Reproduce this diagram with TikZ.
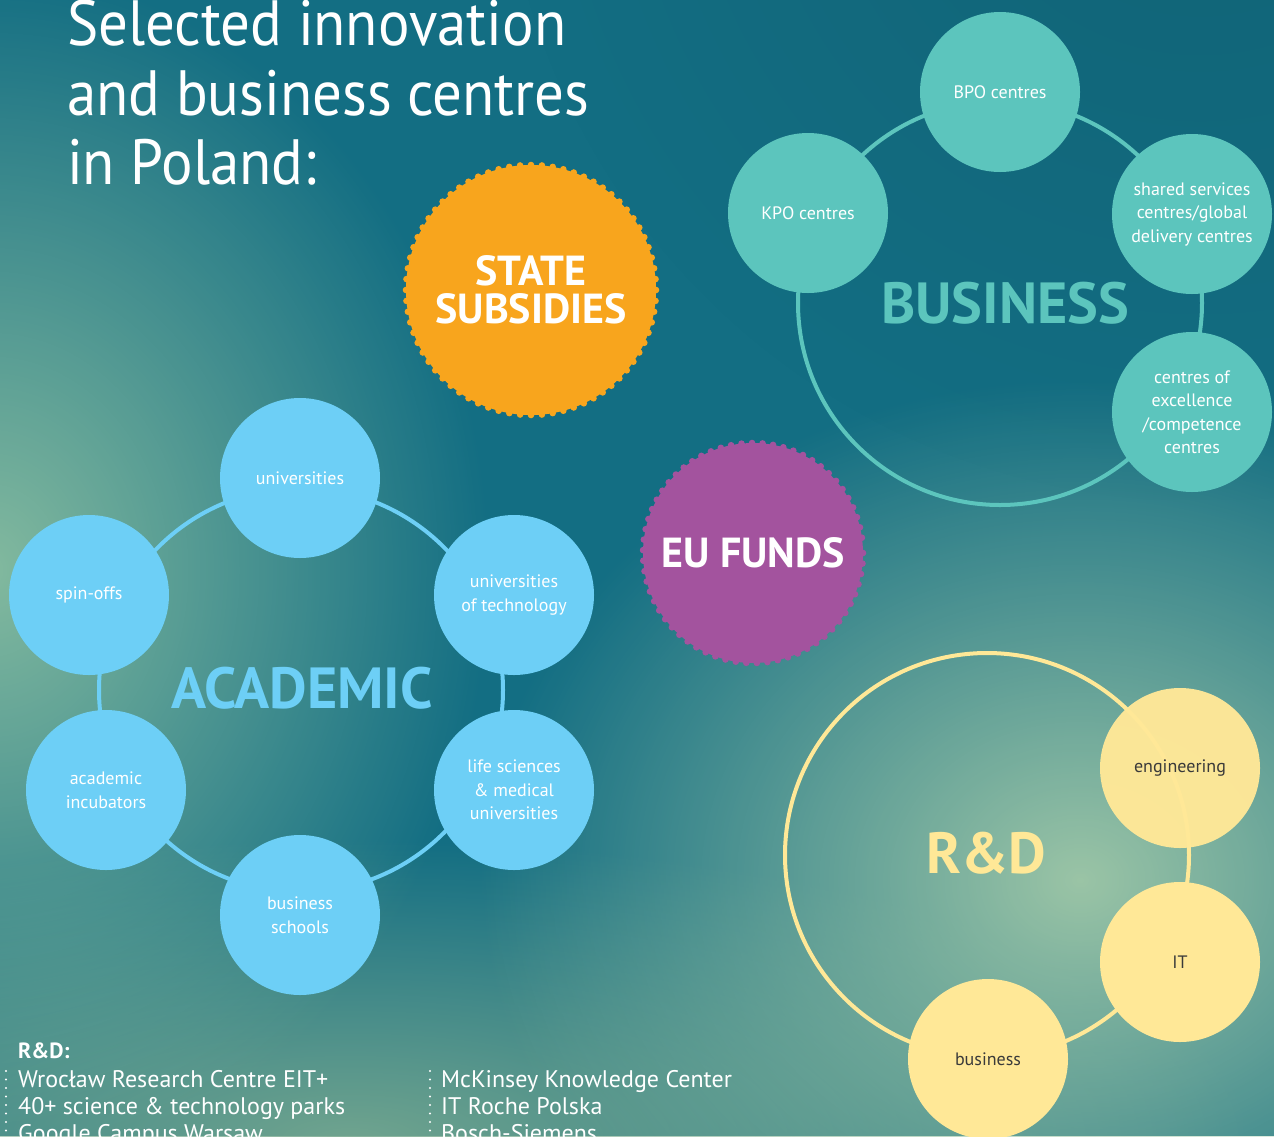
\documentclass[tikz,border=0pt]{standalone}
\usepackage{fontspec}
\setmainfont{PT Sans}
\newfontfamily\titlefont[FakeStretch=0.92]{PT Sans}
\usetikzlibrary{fadings}

\tikzfading[name=softglow, inner color=transparent!0, outer color=transparent!100]

\definecolor{bgteal}{HTML}{136E83}
\definecolor{glowgreen}{HTML}{8FC2A2}
\definecolor{glowpale}{HTML}{A2C9A8}
\definecolor{glowlow}{HTML}{7AAA90}
\definecolor{bizteal}{HTML}{5CC5BD}
\definecolor{acadblue}{HTML}{6DCFF6}
\definecolor{rdyellow}{HTML}{FFE897}
\definecolor{subsidy}{HTML}{F8A51D}
\definecolor{eupurple}{HTML}{A3539E}
\definecolor{textdark}{HTML}{3A3A3A}

\tikzset{
  hub/.style={circle, inner sep=0pt, minimum size=160pt, align=center,
    font=\fontsize{18}{23.5}\selectfont},
  bizhub/.style={hub, fill=bizteal, text=white},
  acadhub/.style={hub, fill=acadblue, text=white},
  rdhub/.style={hub, fill=rdyellow, text=textdark},
  sector/.style={inner sep=0pt, font=\bfseries\fontsize{58}{58}\selectfont},
  badge/.style={align=center, text=white, inner sep=0pt},
  titleline/.style={anchor=base west, inner sep=0pt, text=white,
    font=\titlefont\fontsize{64}{69}\selectfont},
  listline/.style={anchor=base west, inner sep=0pt, text=white,
    font=\fontsize{24}{27}\selectfont},
  dotrule/.style={white, line width=2.4pt, line cap=round, dash pattern=on 0pt off 8.5pt}
}

\begin{document}
\begin{tikzpicture}[x=1pt, y=-1pt]
\useasboundingbox (0,0) rectangle (1274,1136);

% Background

\fill[bgteal] (0,0) rectangle (1274,1136);
\fill[bgteal!80!black, opacity=0.5, path fading=softglow] (500,-900) rectangle (1900,500);
\fill[glowlow, opacity=0.9, path fading=softglow] (-550,840) rectangle (1250,1440);
\fill[glowgreen, opacity=0.9, path fading=softglow] (-510,-30) rectangle (490,1170);
\fill[glowpale, opacity=0.95, path fading=softglow] (480,380) rectangle (1680,1380);

% Title

\node[titleline] (title1) at (67,45) {Selected innovation};
\node[titleline] (title2) at (67,115) {and business centres};
\node[titleline] (title3) at (67,184) {in Poland:};

% Business ring

\coordinate (bizc) at (1000,303);
\draw[bizteal, line width=4pt] (bizc) circle (202);
\node[bizhub] (bpo) at (1000,92) {BPO centres};
\node[bizhub] (kpo) at (808,213) {KPO centres};
\node[bizhub] (ssc) at (1192,214) {shared services\\centres/global\\delivery centres};
\node[bizhub] (coe) at (1192,412) {centres of\\excellence\\/competence\\centres};
\node[sector, text=bizteal] (biztitle) at (1005,303) {BUSINESS};

% Academic ring

\coordinate (acadc) at (301,690);
\draw[acadblue, line width=4pt] (acadc) circle (202);
\node[acadhub] (uni) at (300,478) {universities};
\node[acadhub] (unitech) at (514,595) {universities\\of technology};
\node[acadhub] (lifesci) at (514,790) {life sciences\\\& medical\\universities};
\node[acadhub] (bschool) at (300,915) {business\\schools};
\node[acadhub] (incub) at (106,790) {academic\\incubators};
\node[acadhub] (spinoff) at (89,595) {spin-offs};
\node[sector, text=acadblue] (acadtitle) at (302,688) {ACADEMIC};

% R&D ring

\coordinate (rdc) at (987,855);
\draw[rdyellow, line width=4pt] (rdc) circle (202);
\node[rdhub, fill opacity=0.97, text opacity=1] (eng) at (1180,768) {engineering};
\node[rdhub] (it) at (1180,962) {IT};
\node[rdhub] (busi) at (988,1059) {business};
\node[sector, text=rdyellow] (rdtitle) at (986,853) {R\&D};

% State subsidies badge

\coordinate (statec) at (531,290);
\fill[subsidy] (statec) circle (125);
\foreach \a in {0,5,...,355}
  \fill[subsidy] ([shift={(\a:125)}]statec) circle (3.3);
\node[badge, font=\bfseries\fontsize{42}{38}\selectfont] (state) at (statec) {STATE\\SUBSIDIES};

% EU funds badge

\coordinate (euc) at (753,553);
\fill[eupurple] (euc) circle (110);
\foreach \a in {0,5.5,...,355}
  \fill[eupurple] ([shift={(\a:110)}]euc) circle (3.3);
\node[badge, font=\bfseries\fontsize{42}{42}\selectfont] (eu) at (euc) {EU FUNDS};

% R&D list

\node[listline, font=\bfseries\fontsize{22}{22}\selectfont] (rdhead) at (18,1058) {R\&D:};
\coordinate (ruleAtop) at (6,1071);
\coordinate (ruleAend) at (6,1140);
\draw[dotrule] (ruleAtop) -- (ruleAend);
\coordinate (ruleBtop) at (430,1071);
\coordinate (ruleBend) at (430,1140);
\draw[dotrule] (ruleBtop) -- (ruleBend);
\node[listline] (rd1) at (18,1087) {Wrocław Research Centre EIT+};
\node[listline] (rd2) at (18,1114) {40+ science \& technology parks};
\node[listline] (rd3) at (18,1141) {Google Campus Warsaw};
\node[listline] (rd4) at (441,1087) {McKinsey Knowledge Center};
\node[listline] (rd5) at (441,1114) {IT Roche Polska};
\node[listline] (rd6) at (441,1141) {Bosch-Siemens};

\end{tikzpicture}
\end{document}
